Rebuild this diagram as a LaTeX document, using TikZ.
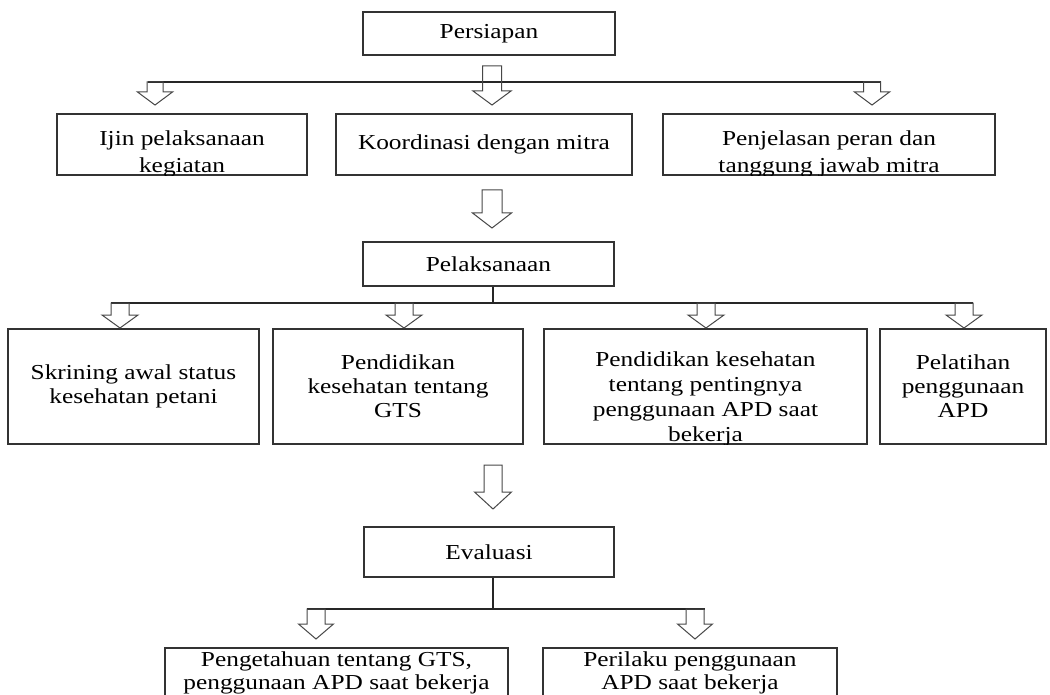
\documentclass[tikz,border=0pt]{standalone}
\usepackage{fontspec}
\setmainfont{Liberation Serif}[FakeStretch=1.19]
\usetikzlibrary{calc}
\newcommand{\blockarr}[5]{%
  \draw[barrow] let \p1=(#1), \p2=(#2) in
    (\x1-#3,\y1) -- (\x1-#3,\y2+#5) -- (\x1-#4,\y2+#5) -- (\x1,\y2)
    -- (\x1+#4,\y2+#5) -- (\x1+#3,\y2+#5) -- (\x1+#3,\y1) -- cycle;}
\begin{document}
\begin{tikzpicture}[x=1pt,y=-1pt,
  box/.style={draw=black!80, line width=1.2pt, inner sep=0pt, align=center,
    font=\fontsize{21.3}{24}\selectfont, text=black},
  txt/.style={inner sep=0pt, align=center, text=black},
  link/.style={draw=black!85, line width=1.2pt},
  barrow/.style={draw=black!72, line width=1pt, line join=miter},
]
\path[use as bounding box, clip] (0,0) rectangle (1050,695);
\fill[white] (0,0) rectangle (1050,695);

% ---- boxes ----
\node[box, minimum width=252pt, minimum height=43pt] (P) at (489,33.5) {Persiapan};
\node[box, minimum width=250pt, minimum height=61pt] (R1a) at (182,144.5) {};
\node[box, minimum width=296pt, minimum height=61pt] (R1b) at (484,144.5) {Koordinasi dengan mitra};
\node[box, minimum width=332pt, minimum height=61pt] (R1c) at (829,144.5) {};
\node[box, minimum width=251pt, minimum height=44pt] (P2) at (488.5,264) {Pelaksanaan};
\node[box, minimum width=251pt, minimum height=115pt] (S1) at (133.5,386.5) {Skrining awal status\\kesehatan petani};
\node[box, minimum width=250pt, minimum height=115pt] (S2) at (398,386.5) {Pendidikan\\kesehatan tentang\\GTS};
\node[box, minimum width=323pt, minimum height=115pt] (S3) at (705.5,386.5) {};
\node[box, minimum width=166pt, minimum height=115pt] (S4) at (963,386.5) {Pelatihan\\penggunaan\\APD};
\node[box, minimum width=250pt, minimum height=50pt] (E) at (489,552) {Evaluasi};
\node[box, minimum width=343pt, minimum height=50pt, font=\fontsize{21.3}{23}\selectfont] (Q1) at (336.5,673) {Pengetahuan tentang GTS,\\penggunaan APD saat bekerja};
\node[box, minimum width=294pt, minimum height=50pt, font=\fontsize{21.3}{23}\selectfont] (Q2) at (690,673) {Perilaku penggunaan\\APD saat bekerja};

% ---- texts running into the lower border ----
\begin{scope}
  \clip (R1a.south west) rectangle (R1a.north east);
  \node[txt, anchor=south, font=\fontsize{21.3}{27}\selectfont] (R1at) at ([yshift=-2pt]R1a.south) {Ijin pelaksanaan\\kegiatan};
\end{scope}
\begin{scope}
  \clip (R1c.south west) rectangle (R1c.north east);
  \node[txt, anchor=south, font=\fontsize{21.3}{27}\selectfont] (R1ct) at ([yshift=-2pt]R1c.south) {Penjelasan peran dan\\tanggung jawab mitra};
\end{scope}
\begin{scope}
  \clip (S3.south west) rectangle (S3.north east);
  \node[txt, anchor=south, font=\fontsize{21.3}{25}\selectfont] (S3t) at ([yshift=-2pt]S3.south) {Pendidikan kesehatan\\tentang pentingnya\\penggunaan APD saat\\bekerja};
\end{scope}

% ---- branch points ----
\coordinate (l1L) at (147.5,82);  \coordinate (l1R) at (880.5,82);
\coordinate (l2c) at (493,303);   \coordinate (l2L) at (111,303); \coordinate (l2R) at (972.5,303);
\coordinate (l3c) at (493,609);   \coordinate (l3L) at (306.5,609); \coordinate (l3R) at (704.5,609);

\draw[link] (l1L) -- (l1R);
\draw[link] (P2.south -| l2c) -- (l2c);
\draw[link] (l2L) -- (l2R);
\draw[link] (E.south -| l3c) -- (l3c);
\draw[link] (l3L) -- (l3R);

% ---- block arrows ----
\coordinate (a1s) at (492,66);  \coordinate (a1t) at (492,105);
\coordinate (a2s) at (155,82);  \coordinate (a2t) at (155,105);
\coordinate (a3s) at (872,82);  \coordinate (a3t) at (872,105);
\blockarr{a1s}{a1t}{9.5pt}{19pt}{14pt}
\blockarr{a2s}{a2t}{8pt}{17.5pt}{13pt}
\blockarr{a3s}{a3t}{8.5pt}{17.5pt}{13pt}

\coordinate (b1s) at (492,190); \coordinate (b1t) at (492,228);
\blockarr{b1s}{b1t}{10pt}{19.5pt}{15pt}

\coordinate (c1s) at (120,303); \coordinate (c1t) at (120,328);
\coordinate (c2s) at (404,303); \coordinate (c2t) at (404,328);
\coordinate (c3s) at (706,303); \coordinate (c3t) at (706,328);
\coordinate (c4s) at (964,303); \coordinate (c4t) at (964,328);
\blockarr{c1s}{c1t}{9pt}{18pt}{13pt}
\blockarr{c2s}{c2t}{9pt}{18pt}{13pt}
\blockarr{c3s}{c3t}{9pt}{18pt}{13pt}
\blockarr{c4s}{c4t}{9pt}{18pt}{13pt}

\coordinate (d1s) at (493,465); \coordinate (d1t) at (493,509);
\blockarr{d1s}{d1t}{9pt}{18.5pt}{17pt}

\coordinate (e1s) at (316,609); \coordinate (e1t) at (316,639);
\coordinate (e2s) at (695,609); \coordinate (e2t) at (695,639);
\blockarr{e1s}{e1t}{9pt}{17.5pt}{15pt}
\blockarr{e2s}{e2t}{9pt}{17.5pt}{15pt}
\end{tikzpicture}
\end{document}
